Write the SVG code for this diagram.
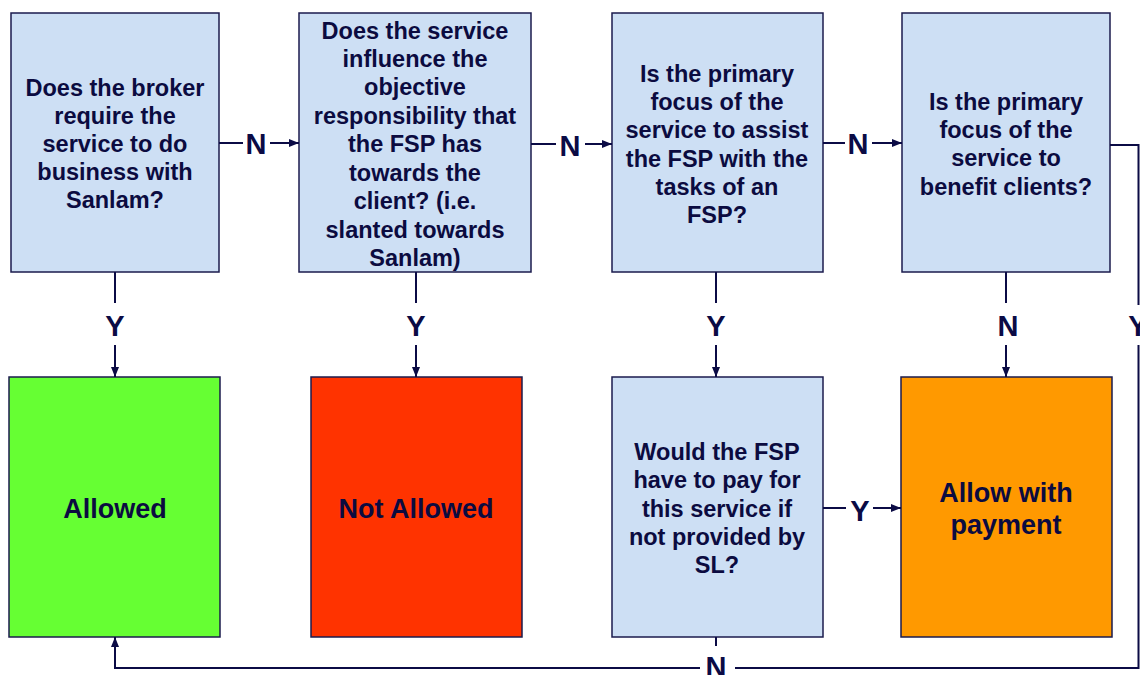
<svg xmlns="http://www.w3.org/2000/svg" width="1140" height="675" viewBox="0 0 1140 675">
<defs>
<marker id="ah" viewBox="0 0 10 8" refX="10" refY="4" markerWidth="10" markerHeight="8" markerUnits="userSpaceOnUse" orient="auto">
<path d="M0,0 L10,4 L0,8 Z" fill="#0b0b45"/>
</marker>
<style>
.box{stroke:#1b1b4d;stroke-width:1.5}
.q{fill:#cddff4}
.t{font-family:"Liberation Sans",Arial,sans-serif;font-weight:bold;font-size:23.5px;fill:#0b0b40;text-anchor:middle}
.big{font-size:27px}
.lbl{font-family:"Liberation Sans",Arial,sans-serif;font-weight:bold;font-size:29px;fill:#0b0b45;text-anchor:middle}
.c{stroke:#0b0b45;stroke-width:2;fill:none}
.cm{stroke:#0b0b45;stroke-width:2;fill:none;marker-end:url(#ah)}
</style>
</defs>
<rect width="1140" height="675" fill="#ffffff"/>

<g id="q1">
<rect class="box q" x="11" y="13" width="208" height="259"/>
<text class="t" x="115" y="95.5">Does the broker</text>
<text class="t" x="115" y="123.5">require the</text>
<text class="t" x="115" y="151.5">service to do</text>
<text class="t" x="115" y="179.5">business with</text>
<text class="t" x="115" y="207.5">Sanlam?</text>
</g>

<g id="q2">
<rect class="box q" x="299" y="13" width="232" height="259"/>
<text class="t" x="415" y="38.5">Does the service</text>
<text class="t" x="415" y="66.5">influence the</text>
<text class="t" x="415" y="95">objective</text>
<text class="t" x="415" y="123.5">responsibility that</text>
<text class="t" x="415" y="152">the FSP has</text>
<text class="t" x="415" y="180.5">towards the</text>
<text class="t" x="415" y="209">client? (i.e.</text>
<text class="t" x="415" y="237.5">slanted towards</text>
<text class="t" x="415" y="265.5">Sanlam)</text>
</g>

<g id="q3">
<rect class="box q" x="612" y="13" width="211" height="259"/>
<text class="t" x="717" y="81.5">Is the primary</text>
<text class="t" x="717" y="109.5">focus of the</text>
<text class="t" x="717" y="138">service to assist</text>
<text class="t" x="717" y="166.5">the FSP with the</text>
<text class="t" x="717" y="194.5">tasks of an</text>
<text class="t" x="717" y="222.5">FSP?</text>
</g>

<g id="q4">
<rect class="box q" x="902" y="13" width="208" height="259"/>
<text class="t" x="1006" y="109.5">Is the primary</text>
<text class="t" x="1006" y="137.5">focus of the</text>
<text class="t" x="1006" y="166">service to</text>
<text class="t" x="1006" y="194.5">benefit clients?</text>
</g>

<g id="allowed">
<rect class="box" fill="#66ff33" x="9" y="377" width="211" height="260"/>
<text class="t big" x="115" y="517.5">Allowed</text>
</g>

<g id="notallowed">
<rect class="box" fill="#ff3300" x="311" y="377" width="211" height="260"/>
<text class="t big" x="416" y="517.5">Not Allowed</text>
</g>

<g id="q5">
<rect class="box q" x="612" y="377" width="211" height="260"/>
<text class="t" x="717" y="459.5">Would the FSP</text>
<text class="t" x="717" y="488">have to pay for</text>
<text class="t" x="717" y="516.5">this service if</text>
<text class="t" x="717" y="544.5">not provided by</text>
<text class="t" x="717" y="572.5">SL?</text>
</g>

<g id="payment">
<rect class="box" fill="#ff9900" x="901" y="377" width="211" height="260"/>
<text class="t big" x="1006" y="501.5">Allow with</text>
<text class="t big" x="1006" y="533.5">payment</text>
</g>

<g id="connectors">
<line class="c" x1="219" y1="143" x2="243" y2="143"/>
<line class="cm" x1="270" y1="143" x2="299" y2="143"/>
<text class="lbl" x="256" y="153.5">N</text>

<line class="c" x1="531" y1="144" x2="556" y2="144"/>
<line class="cm" x1="585" y1="144" x2="612" y2="144"/>
<text class="lbl" x="570" y="155.5">N</text>

<line class="c" x1="823" y1="143" x2="845" y2="143"/>
<line class="cm" x1="872" y1="143" x2="902" y2="143"/>
<text class="lbl" x="858" y="153.5">N</text>

<line class="c" x1="115" y1="272" x2="115" y2="303"/>
<line class="cm" x1="115" y1="345" x2="115" y2="377"/>
<text class="lbl" x="115" y="336">Y</text>

<line class="c" x1="416" y1="272" x2="416" y2="303"/>
<line class="cm" x1="416" y1="345" x2="416" y2="377"/>
<text class="lbl" x="416" y="336">Y</text>

<line class="c" x1="716" y1="272" x2="716" y2="303"/>
<line class="cm" x1="716" y1="345" x2="716" y2="377"/>
<text class="lbl" x="716" y="336">Y</text>

<line class="c" x1="1006" y1="272" x2="1006" y2="303"/>
<line class="cm" x1="1006" y1="345" x2="1006" y2="377"/>
<text class="lbl" x="1008" y="336">N</text>

<line class="c" x1="823" y1="508" x2="846" y2="508"/>
<line class="cm" x1="873" y1="508" x2="901" y2="508"/>
<text class="lbl" x="860" y="520.5">Y</text>

<polyline class="c" stroke-width="1.5" points="1110,145 1138.5,145 1138.5,305"/>
<text class="lbl" x="1138" y="336">Y</text>
<polyline class="c" stroke-width="1.5" points="1138.5,345 1138.5,668 735,668"/>

<line class="c" x1="716" y1="637" x2="716" y2="646"/>
<text class="lbl" x="716" y="677">N</text>
<polyline class="cm" stroke-width="3" points="700,668 115,668 115,637"/>
</g>
</svg>
